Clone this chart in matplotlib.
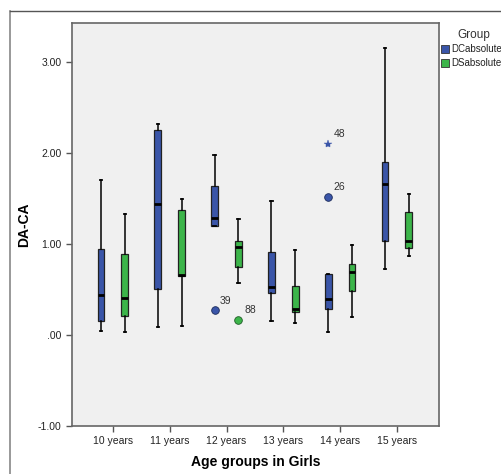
import numpy as np
import matplotlib.pyplot as plt
from matplotlib.patches import Rectangle
from matplotlib.lines import Line2D

plt.rcParams["font.family"] = ["Liberation Sans", "DejaVu Sans"]

# ------------------------------------------------------------
# Data
# ------------------------------------------------------------
ages = ["10 years", "11 years", "12 years", "13 years", "14 years", "15 years"]

# DCabsolute
dc_low = [0.04, 0.09, 1.20, 0.15, 0.03, 0.73]
dc_q1 = [0.15, 0.51, 1.20, 0.46, 0.29, 1.03]
dc_med = [0.44, 1.44, 1.29, 0.53, 0.40, 1.66]
dc_q3 = [0.95, 2.25, 1.64, 0.91, 0.67, 1.90]
dc_high = [1.70, 2.32, 1.98, 1.47, 0.67, 3.15]

# DSabsolute
ds_low = [0.03, 0.10, 0.57, 0.13, 0.20, 0.87]
ds_q1 = [0.21, 0.65, 0.75, 0.25, 0.48, 0.96]
ds_med = [0.41, 0.66, 0.97, 0.29, 0.69, 1.03]
ds_q3 = [0.89, 1.37, 1.03, 0.54, 0.78, 1.35]
ds_high = [1.33, 1.49, 1.27, 0.94, 0.99, 1.55]

# outliers: (age index, value, case label, marker)
dc_outliers = [(2, 0.27, "39", "o"), (4, 1.52, "26", "o"), (4, 2.10, "48", "*")]
ds_outliers = [(2, 0.17, "88", "o")]

blue = "#3a55a8"
green = "#3cb54a"


def make_stats(low, q1, med, q3, high):
    return [dict(whislo=a, q1=b, med=c, q3=d, whishi=e, fliers=[])
            for a, b, c, d, e in zip(low, q1, med, q3, high)]


fig = plt.figure(figsize=(5.01, 4.74), dpi=100)
ax = fig.add_axes([72 / 501, 1 - 426 / 474, (439 - 72) / 501, (426 - 23) / 474])
ax.set_facecolor("#f0f0f0")

x = np.arange(len(ages))
off = 0.21
w = 0.12

for stats, pos, col in [(make_stats(dc_low, dc_q1, dc_med, dc_q3, dc_high), x - off, blue),
                        (make_stats(ds_low, ds_q1, ds_med, ds_q3, ds_high), x + off, green)]:
    ax.bxp(stats, positions=pos, widths=w, patch_artist=True, showfliers=False,
           boxprops=dict(facecolor=col, edgecolor="#222222", linewidth=0.9),
           medianprops=dict(color="black", linewidth=2),
           whiskerprops=dict(color="black", linewidth=1.1),
           capprops=dict(color="black", linewidth=1.3),
           capwidths=0.04)

for outs, side, col in [(dc_outliers, -off, blue), (ds_outliers, off, green)]:
    for i, v, lab, m in outs:
        if m == "*":
            ax.plot(i + side, v, marker="*", color=col, markersize=6, markeredgewidth=0.3)
        else:
            ax.plot(i + side, v, marker="o", color=col, markersize=5.5,
                    markeredgecolor="#1a2a5a" if col == blue else "#1d5a25", markeredgewidth=0.6)
        ax.annotate(lab, (i + side, v), xytext=(4, 5), textcoords="offset points",
                    fontsize=7.5, color="#333333")

ax.set_xlim(-0.72, 5.74)
ax.set_ylim(-1.0, 3.43)
ax.set_xticks(x)
ax.set_xticklabels(ages, fontsize=7.5)
ax.set_yticks([-1, 0, 1, 2, 3])
ax.set_yticklabels(["-1.00", ".00", "1.00", "2.00", "3.00"], fontsize=7.5)
ax.tick_params(length=4, width=1, color="#555555", labelcolor="#222222")
for s in ax.spines.values():
    s.set_color("#666666")
    s.set_linewidth(1.2)

ax.set_xlabel("Age groups in Girls", fontsize=10, fontweight="bold", labelpad=6)
ax.set_ylabel("DA-CA", fontsize=10, fontweight="bold", labelpad=5)

# outer frame lines
fig.add_artist(Line2D([10 / 501, 10 / 501], [0, 1 - 11 / 474], color="#888888", lw=1.2))
fig.add_artist(Line2D([10 / 501, 1], [1 - 11 / 474, 1 - 11 / 474], color="#555555", lw=1))

# legend
fig.text(457 / 501, 1 - 35 / 474, "Group", fontsize=8.5, color="#333333", va="center")
for j, (lab, col) in enumerate([("DCabsolute", blue), ("DSabsolute", green)]):
    yc = 1 - (49 + j * 14) / 474
    fig.add_artist(Rectangle((441 / 501, yc - 4 / 474), 8 / 501, 8 / 474,
                             facecolor=col, edgecolor="#333333", lw=0.6))
    fig.text(451 / 501, yc, lab, fontsize=7, color="#222222", va="center")

fig.savefig("out.png", dpi=100)
